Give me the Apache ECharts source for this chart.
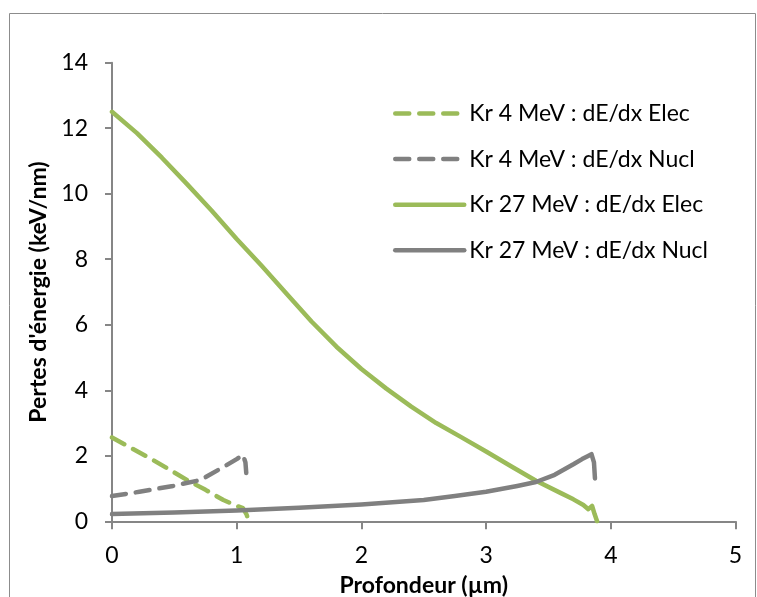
<!DOCTYPE html>
<html>
<head>
<meta charset="utf-8">
<script src="https://cdn.jsdelivr.net/npm/echarts@6/dist/echarts.min.js"></script>
<style>
html,body{margin:0;padding:0;background:#fff;}
#chart{width:757px;height:597px;}
</style>
</head>
<body>
<div id="chart"></div>
<script>
// ---- Data ----
const seriesNames = [
  'Kr 4 MeV : dE/dx Elec',
  'Kr 4 MeV : dE/dx Nucl',
  'Kr 27 MeV : dE/dx Elec',
  'Kr 27 MeV : dE/dx Nucl'
];

const kr4ElecDepth = [0, 0.33, 0.625, 0.75, 0.893, 1.0, 1.05, 1.08, 1.095];
const kr4ElecLoss  = [2.56, 1.87, 1.21, 0.96, 0.65, 0.47, 0.40, 0.2, 0];

const kr4NuclDepth = [0, 0.22, 0.49, 0.71, 0.89, 1.0, 1.05, 1.07, 1.08];
const kr4NuclLoss  = [0.77, 0.9, 1.08, 1.26, 1.65, 1.9, 2.03, 1.8, 1.31];

const kr27ElecDepth = [0, 0.2, 0.4, 0.6, 0.8, 1.0, 1.2, 1.4, 1.6, 1.8, 2.0, 2.2, 2.4, 2.6, 2.8, 3.0, 3.2, 3.4, 3.6, 3.7, 3.78, 3.82, 3.85, 3.87, 3.89];
const kr27ElecLoss  = [12.5, 11.85, 11.1, 10.3, 9.48, 8.62, 7.8, 6.95, 6.1, 5.33, 4.65, 4.05, 3.5, 3.0, 2.57, 2.13, 1.68, 1.24, 0.86, 0.67, 0.5, 0.37, 0.47, 0.22, 0];

const kr27NuclDepth = [0, 0.5, 1.0, 1.5, 2.0, 2.5, 2.75, 3.0, 3.25, 3.4, 3.55, 3.7, 3.77, 3.81, 3.845, 3.865, 3.873];
const kr27NuclLoss  = [0.22, 0.27, 0.33, 0.41, 0.51, 0.65, 0.77, 0.9, 1.08, 1.2, 1.42, 1.74, 1.9, 1.98, 2.05, 1.8, 1.31];

const xTicks = {min: 0, max: 5, interval: 1};
const yTicks = {min: 0, max: 14, interval: 2};

const xTitle = 'Profondeur (µm)';
const yTitle = "Pertes d'énergie (keV/nm)";

// ---- Build ----
function pairs(xs, ys){ return xs.map((x,i)=>[x, ys[i]]); }

const GREEN = '#9BBB59';
const GRAY = '#808080';
const AXIS = '#868686';
const FONT = 'Lato';
const DASH = [14, 10];

const chart = echarts.init(document.getElementById('chart'), null, {renderer:'canvas'});

function lineSeries(name, data, color, dashed){
  return {
    name, type:'line', data, showSymbol:false, symbol:'none', smooth:false,
    animation:false,
    lineStyle:{color, width:4.5, type: dashed ? DASH : 'solid', cap:'round', join:'round'},
    itemStyle:{color}
  };
}

chart.setOption({
  animation:false,
  backgroundColor:'#fff',
  graphic:[{
    type:'rect', shape:{x:9.5, y:13.5, width:746, height:700},
    style:{fill:'none', stroke:'#8c8c8c', lineWidth:1}, z:-1
  }],
  grid:{left:112, right:21.5, top:62.7, bottom:75.7, containLabel:false, outerBoundsMode:'none'},
  legend:{
    orient:'vertical', left:388, top:97,
    itemWidth:69, itemHeight:20, itemGap:22.6,
    itemStyle:{opacity:0},
    lineStyle:{width:4.5, cap:'round'},
    textStyle:{fontFamily:FONT, fontSize:23, color:'#000', lineHeight:20},
    data:seriesNames
  },
  xAxis:{
    type:'value', min:xTicks.min, max:xTicks.max, interval:xTicks.interval,
    axisLine:{show:true, lineStyle:{color:AXIS, width:2}},
    axisTick:{show:true, length:8, lineStyle:{color:AXIS, width:2}},
    splitLine:{show:false},
    axisLabel:{margin:23, fontFamily:FONT, fontSize:23, color:'#000'},
    name:xTitle, nameLocation:'middle', nameGap:53,
    nameTextStyle:{fontFamily:FONT, fontSize:23, fontWeight:'bold', color:'#000'}
  },
  yAxis:{
    type:'value', min:yTicks.min, max:yTicks.max, interval:yTicks.interval,
    axisLine:{show:true, lineStyle:{color:AXIS, width:2}},
    axisTick:{show:true, length:7, lineStyle:{color:AXIS, width:2}},
    splitLine:{show:false},
    axisLabel:{margin:24, fontFamily:FONT, fontSize:23, color:'#000'},
    name:yTitle, nameLocation:'middle', nameGap:60, nameRotate:90,
    nameTextStyle:{fontFamily:FONT, fontSize:23, fontWeight:'bold', color:'#000'}
  },
  series:[
    lineSeries(seriesNames[0], pairs(kr4ElecDepth, kr4ElecLoss), GREEN, true),
    lineSeries(seriesNames[1], pairs(kr4NuclDepth, kr4NuclLoss), GRAY, true),
    lineSeries(seriesNames[2], pairs(kr27ElecDepth, kr27ElecLoss), GREEN, false),
    lineSeries(seriesNames[3], pairs(kr27NuclDepth, kr27NuclLoss), GRAY, false)
  ]
});
</script>
</body>
</html>
